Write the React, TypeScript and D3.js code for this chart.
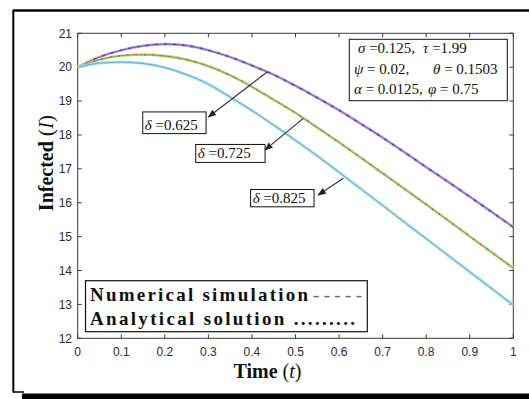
import React from "react";
import * as d3 from "d3";

const tValues = [0, 0.05, 0.1, 0.15, 0.2, 0.25, 0.3, 0.35, 0.4, 0.45, 0.5, 0.55, 0.6, 0.65, 0.7, 0.75, 0.8, 0.85, 0.9, 0.95, 1.0];
const delta0625 = [20.0, 20.3, 20.5, 20.63, 20.68, 20.64, 20.5, 20.3, 20.05, 19.78, 19.45, 19.1, 18.73, 18.33, 17.92, 17.49, 17.05, 16.62, 16.18, 15.73, 15.28];
const delta0725 = [20.0, 20.22, 20.34, 20.37, 20.33, 20.22, 20.03, 19.76, 19.42, 19.04, 18.65, 18.22, 17.78, 17.33, 16.87, 16.41, 15.95, 15.48, 15.01, 14.54, 14.07];
const delta0825 = [20.0, 20.12, 20.15, 20.11, 19.99, 19.78, 19.5, 19.12, 18.72, 18.29, 17.84, 17.38, 16.9, 16.41, 15.92, 15.43, 14.94, 14.45, 13.96, 13.47, 12.98];

const xTicks = [0, 0.1, 0.2, 0.3, 0.4, 0.5, 0.6, 0.7, 0.8, 0.9, 1];
const xTickLabels = ["0", "0.1", "0.2", "0.3", "0.4", "0.5", "0.6", "0.7", "0.8", "0.9", "1"];
const yTicks = [12, 13, 14, 15, 16, 17, 18, 19, 20, 21];

const deltaLabels = ["0.625", "0.725", "0.825"];
// arrow start (on curve) and head, in data units
const arrowFrom = [[0.435, 19.86], [0.518, 18.49], [0.61, 16.72]];
const arrowTo = [[0.3, 18.53], [0.43, 17.56], [0.552, 16.23]];
// label box corners in data units [t0, I0, t1, I1]
const labelBoxes = [
  [0.1493, 18.68, 0.2947, 18.04],
  [0.2709, 17.72, 0.4301, 17.19],
  [0.397, 16.39, 0.5425, 15.88],
];

const series = [
  { values: delta0625, halo: "#c9a6dc", core: "#8d4fb0", over: "#3355cc", dash: "3,6" },
  { values: delta0725, halo: "#bcd99a", core: "#7fa33c", over: "#e0601c", dash: "1.5,7" },
  { values: delta0825, halo: "#9fdcf5", core: "#45bde9", over: "#f2a93a", dash: "1.5,8" },
];

const L = 77.7, R = 513.3, T = 33.3, B = 338.3;

export default function App() {
  const x = d3.scaleLinear().domain([0, 1]).range([L, R]);
  const y = d3.scaleLinear().domain([12, 21]).range([B, T]);
  const line = d3
    .line<number>()
    .x((_, i) => x(tValues[i]))
    .y((v) => y(v))
    .curve(d3.curveMonotoneX);

  const tickFont = "'Liberation Sans', Arial, sans-serif";
  const serif = "'Liberation Serif', 'Times New Roman', serif";

  return (
    <svg
      width={529}
      height={399}
      style={{ position: "absolute", left: 0, top: 0, background: "#fff" }}
    >
      <defs>
        <marker id="ah" viewBox="0 0 10 10" refX="9" refY="5" markerWidth="7" markerHeight="7" orient="auto">
          <path d="M0,1 L10,5 L0,9 z" fill="#222" />
        </marker>
      </defs>
      <rect x={0} y={0} width={529} height={399} fill="#fff" />
      {/* outer frame */}
      <line x1={13} y1={10.5} x2={529} y2={10.5} stroke="#000" strokeWidth={2.5} />
      <line x1={13.3} y1={10} x2={13.3} y2={392.5} stroke="#000" strokeWidth={2} />
      <line x1={13} y1={392} x2={24} y2={392} stroke="#000" strokeWidth={1.5} />
      <rect x={22} y={393.5} width={507} height={6} fill="#000" />

      {/* axes box */}
      <rect x={L} y={T} width={R - L} height={B - T} fill="none" stroke="#3a3a3a" strokeWidth={1} />
      {xTicks.map((t, i) => (
        <g key={"xt" + i}>
          <line x1={x(t)} x2={x(t)} y1={B} y2={B - 4} stroke="#3a3a3a" />
          <line x1={x(t)} x2={x(t)} y1={T} y2={T + 4} stroke="#3a3a3a" />
          <text x={x(t)} y={356} textAnchor="middle" fontFamily={tickFont} fontSize={12} fill="#2a2a3a">
            {xTickLabels[i]}
          </text>
        </g>
      ))}
      {yTicks.map((v, i) => (
        <g key={"yt" + i}>
          <line x1={L} x2={L + 4} y1={y(v)} y2={y(v)} stroke="#3a3a3a" />
          <line x1={R} x2={R - 4} y1={y(v)} y2={y(v)} stroke="#3a3a3a" />
          <text x={72} y={y(v) + 4.3} textAnchor="end" fontFamily={tickFont} fontSize={12} fill="#2a2a3a">
            {v}
          </text>
        </g>
      ))}

      {/* curves */}
      {series.map((s, i) => (
        <g key={"s" + i}>
          <path d={line(s.values) || ""} fill="none" stroke={s.halo} strokeWidth={2.8} />
          <path d={line(s.values) || ""} fill="none" stroke={s.core} strokeWidth={1} />
          <path d={line(s.values) || ""} fill="none" stroke={s.over} strokeWidth={1.6} strokeDasharray={s.dash} />
        </g>
      ))}

      {/* arrows and delta labels */}
      {deltaLabels.map((lab, i) => {
        const [t0, i0, t1, i1] = labelBoxes[i];
        const bx = x(t0), by = y(i0), bw = x(t1) - x(t0), bh = y(i1) - y(i0);
        return (
          <g key={"d" + i}>
            <line
              x1={x(arrowFrom[i][0])}
              y1={y(arrowFrom[i][1])}
              x2={x(arrowTo[i][0])}
              y2={y(arrowTo[i][1])}
              stroke="#333"
              strokeWidth={1.2}
              markerEnd="url(#ah)"
            />
            <rect x={bx} y={by} width={bw} height={bh} fill="#fff" stroke="#111" strokeWidth={1} />
            <text x={bx + 2} y={by + bh - 4} fontFamily={serif} fontSize={15} fill="#111">
              <tspan fontStyle="italic">δ</tspan>
              <tspan> =0.{lab.slice(2)}</tspan>
            </text>
          </g>
        );
      })}

      {/* parameter box */}
      <rect x={349.3} y={39.3} width={158} height={61.4} fill="#fff" stroke="#111" strokeWidth={1} />
      <g fontFamily={serif} fontSize={15} fill="#111">
        <text x={358} y={52.8}>
          <tspan fontStyle="italic">σ</tspan> =0.125,
        </text>
        <text x={423} y={52.8}>
          <tspan fontStyle="italic">τ</tspan> =1.99
        </text>
        <text x={354} y={73.5}>
          <tspan fontStyle="italic">ψ</tspan> = 0.02,
        </text>
        <text x={433} y={73.5}>
          <tspan fontStyle="italic">θ</tspan> = 0.1503
        </text>
        <text x={354} y={94.3}>
          <tspan fontStyle="italic">α</tspan> = 0.0125,
        </text>
        <text x={428} y={94.3}>
          <tspan fontStyle="italic">φ</tspan> = 0.75
        </text>
      </g>

      {/* legend box */}
      <rect x={85.5} y={280.7} width={281.8} height={51} fill="#fff" stroke="#111" strokeWidth={1.2} />
      <text x={90} y={300.5} fontFamily={serif} fontSize={19} fontWeight="bold" fill="#111" textLength={218} lengthAdjust="spacing">
        Numerical simulation
      </text>
      <text x={313} y={300.5} fontFamily={serif} fontSize={19} fill="#666" textLength={49} lengthAdjust="spacing">
        -----
      </text>
      <text x={90} y={324.5} fontFamily={serif} fontSize={19} fontWeight="bold" fill="#111" textLength={265} lengthAdjust="spacing">
        Analytical solution .........
      </text>

      {/* axis labels */}
      <text x={267.5} y={377.5} textAnchor="middle" fontFamily={serif} fontSize={20} fill="#111">
        <tspan fontWeight="bold">Time </tspan>
        <tspan>(</tspan>
        <tspan fontStyle="italic">t</tspan>
        <tspan>)</tspan>
      </text>
      <text
        transform="translate(53,163) rotate(-90)"
        textAnchor="middle"
        fontFamily={serif}
        fontSize={20}
        fill="#111"
      >
        <tspan fontWeight="bold">Infected </tspan>
        <tspan fontSize={22}>(</tspan>
        <tspan fontStyle="italic">I</tspan>
        <tspan fontSize={22}>)</tspan>
      </text>
    </svg>
  );
}
